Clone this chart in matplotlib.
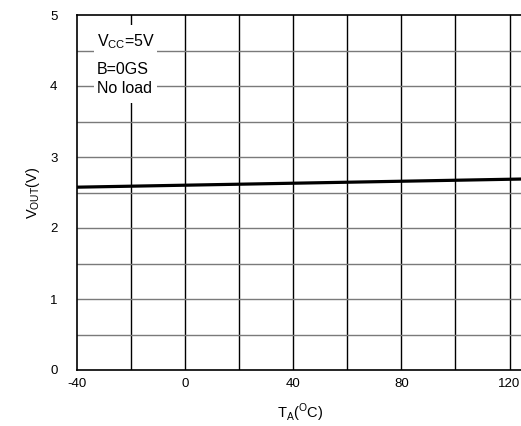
import matplotlib
matplotlib.use("Agg")
import matplotlib.pyplot as plt
import numpy as np

plt.rcParams['font.family'] = ['Liberation Sans', 'DejaVu Sans']
plt.rcParams['mathtext.fontset'] = 'custom'
plt.rcParams['mathtext.rm'] = 'Liberation Sans'
plt.rcParams['axes.unicode_minus'] = False

temps = [-40, 125]
vout = [2.575, 2.69]
x_ticks = [-40, 0, 40, 80, 120]
y_ticks = [0, 1, 2, 3, 4, 5]
notes = [r'V$_{\mathregular{CC}}$=5V', 'B=0GS', 'No load']

fig = plt.figure(figsize=(5.21, 4.26), dpi=100)
ax = fig.add_axes([77/521, 1-370/426, 1-77/521+0.004, (370-15)/426])

for xv in np.arange(-20, 125, 20):
    ax.axvline(xv, color='black', lw=1.0, zorder=1)
for yv in np.arange(0.5, 5, 0.5):
    ax.axhline(yv, color='#7a7a7a', lw=1.0, zorder=1)

ax.plot(temps, vout, color='black', lw=2.3, zorder=3)

ax.set_xlim(-40, 125)
ax.set_ylim(0, 5)
ax.set_xticks(x_ticks)
ax.set_yticks(y_ticks)
ax.tick_params(length=0, labelsize=9.5, pad=6)
ax.tick_params(axis='y', pad=14)
for s in ax.spines.values():
    s.set_linewidth(1.2)

ax.set_xlabel(r'T$_{\mathregular{A}}$($^{\mathregular{O}}$C)', fontsize=10.5, labelpad=8)
ax.set_ylabel(r'V$_{\mathregular{OUT}}$(V)', fontsize=10.5, labelpad=6)

# white background patch behind the note text
ax.axvspan(-33.8, -10.3, ymin=(370-103)/355, ymax=(370-25)/355,
           facecolor='white', edgecolor='none', zorder=2)
for txt, yv in zip(notes, [4.62, 4.232, 3.958]):
    ax.text(-32.6, yv, txt, fontsize=11.5, va='center', ha='left', zorder=4)

fig.savefig('out.png', dpi=100)
